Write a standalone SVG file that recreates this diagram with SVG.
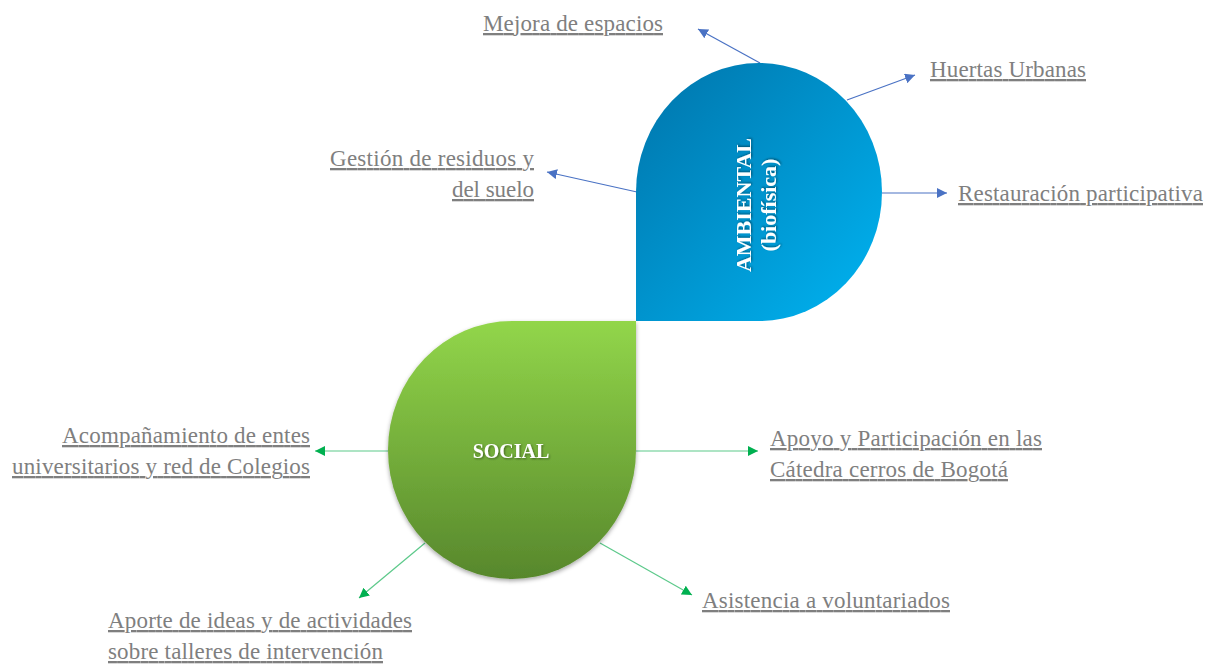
<svg xmlns="http://www.w3.org/2000/svg" width="1214" height="664" viewBox="0 0 1214 664">
<style>
.lbl{font-family:"Liberation Serif","Times New Roman",serif;font-size:23px;fill:#7f7f7f;text-decoration:underline;}
.title{font-family:"Liberation Serif","Times New Roman",serif;font-weight:bold;fill:#ffffff;}
.cb{stroke:#4a72c4;stroke-width:1.2;fill:none;marker-end:url(#ab);}
.cg{stroke:#5cc98a;stroke-width:1.2;fill:none;marker-end:url(#ag);}
</style>
<defs>
<linearGradient id="gb" x1="0" y1="0" x2="1" y2="1">
<stop offset="0" stop-color="#0074AA"/>
<stop offset="1" stop-color="#00B4F2"/>
</linearGradient>
<linearGradient id="gg" x1="0" y1="0" x2="0" y2="1">
<stop offset="0" stop-color="#92D64A"/>
<stop offset="1" stop-color="#57872C"/>
</linearGradient>
<filter id="sh" x="-10%" y="-10%" width="130%" height="130%">
<feDropShadow dx="0" dy="2" stdDeviation="2" flood-color="#000" flood-opacity="0.35"/>
</filter>
<filter id="ts" x="-10%" y="-10%" width="130%" height="130%">
<feDropShadow dx="1" dy="1" stdDeviation="0.8" flood-color="#000" flood-opacity="0.45"/>
</filter>
<marker id="ab" viewBox="0 0 10 10" refX="10" refY="5" markerWidth="10" markerHeight="10" markerUnits="userSpaceOnUse" orient="auto">
<path d="M0,0 L10,5 L0,10 Z" fill="#4a72c4"/>
</marker>
<marker id="ag" viewBox="0 0 10 10" refX="10" refY="5" markerWidth="10" markerHeight="10" markerUnits="userSpaceOnUse" orient="auto">
<path d="M0,0 L10,5 L0,10 Z" fill="#00b050"/>
</marker>
</defs>
<rect width="1214" height="664" fill="#ffffff"/>
<g id="connectors">
<line class="cb" x1="760" y1="63" x2="698" y2="29"/>
<line class="cb" x1="847" y1="100" x2="915" y2="75"/>
<line class="cb" x1="882" y1="193" x2="947" y2="193"/>
<line class="cb" x1="637" y1="192" x2="547" y2="172"/>
<line class="cg" x1="388" y1="451" x2="315" y2="451"/>
<line class="cg" x1="636" y1="451" x2="758" y2="451"/>
<line class="cg" x1="425" y1="543" x2="359" y2="598"/>
<line class="cg" x1="600" y1="543" x2="692" y2="595"/>
</g>
<g id="ambiental">
<path d="M636,321 L636,192 A123,129 0 0 1 759,63 A123,129 0 0 1 882,192 A123,129 0 0 1 759,321 Z" fill="url(#gb)"/>
<g transform="translate(759,205) rotate(-90)" filter="url(#ts)">
<text class="title" x="0" y="-8" font-size="22" text-anchor="middle">AMBIENTAL</text>
<text class="title" x="0" y="17" font-size="22" text-anchor="middle">(biofísica)</text>
</g>
</g>
<g id="social">
<path d="M636,321 L636,450 A124,129 0 0 1 512,579 A124,129 0 0 1 388,450 A124,129 0 0 1 512,321 Z" fill="url(#gg)" filter="url(#sh)"/>
<text class="title" x="511" y="458" font-size="20" text-anchor="middle" filter="url(#ts)">SOCIAL</text>
</g>
<g id="n-mejora"><text class="lbl" x="483" y="31" textLength="180" lengthAdjust="spacing">Mejora de espacios</text></g>
<g id="n-huertas"><text class="lbl" x="930" y="77" textLength="156" lengthAdjust="spacing">Huertas Urbanas</text></g>
<g id="n-restauracion"><text class="lbl" x="958" y="201" textLength="245" lengthAdjust="spacing">Restauración participativa</text></g>
<g id="n-gestion">
<text class="lbl" x="330" y="166" textLength="204" lengthAdjust="spacing">Gestión de residuos y</text>
<text class="lbl" x="452" y="197" textLength="82" lengthAdjust="spacing">del suelo</text>
</g>
<g id="n-acompanamiento">
<text class="lbl" x="62" y="443" textLength="248" lengthAdjust="spacing">Acompañamiento de entes</text>
<text class="lbl" x="12" y="474" textLength="298" lengthAdjust="spacing">universitarios y red de Colegios</text>
</g>
<g id="n-apoyo">
<text class="lbl" x="770" y="446" textLength="272" lengthAdjust="spacing">Apoyo y Participación en las</text>
<text class="lbl" x="770" y="477" textLength="238" lengthAdjust="spacing">Cátedra cerros de Bogotá</text>
</g>
<g id="n-aporte">
<text class="lbl" x="108" y="628" textLength="304" lengthAdjust="spacing">Aporte de ideas y de actividades</text>
<text class="lbl" x="108" y="659" textLength="275" lengthAdjust="spacing">sobre talleres de intervención</text>
</g>
<g id="n-asistencia"><text class="lbl" x="702" y="608" textLength="248" lengthAdjust="spacing">Asistencia  a voluntariados</text></g>
</svg>
